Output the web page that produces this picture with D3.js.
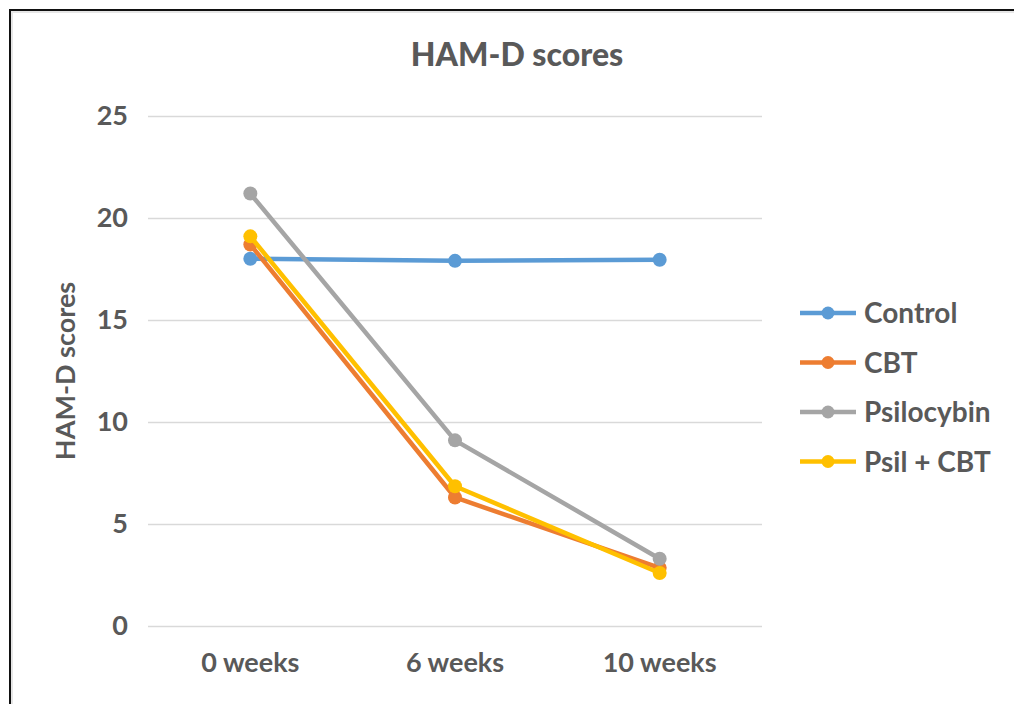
<!DOCTYPE html>
<html lang="en">
<head>
    <meta charset="UTF-8">
    <script src="https://d3js.org/d3.v7.min.js"></script>
    <style>
        body {
            margin: 0;
            background: #fff;
            font-family: Lato, "Open Sans", Arial, sans-serif;
        }
        .tick text {
            font-family: Lato, "Open Sans", Arial, sans-serif;
            font-size: 27px;
            font-weight: bold;
            fill: #595959;
        }
        .legend text {
            font-size: 28px;
            font-weight: bold;
            fill: #595959;
        }
    </style>
</head>
<body>
    <svg id="chart"></svg>
    <script>
        const categories = ["0 weeks", "6 weeks", "10 weeks"];
        const seriesNames = ["Control", "CBT", "Psilocybin", "Psil + CBT"];
        const control = [18.0, 17.9, 17.95];
        const cbt = [18.7, 6.3, 2.85];
        const psilocybin = [21.2, 9.1, 3.3];
        const psilCbt = [19.1, 6.85, 2.6];
        const yTicks = [0, 5, 10, 15, 20, 25];
        const colors = ["#5B9BD5", "#ED7D31", "#A5A5A5", "#FFC000"];

        const series = [control, cbt, psilocybin, psilCbt].map((vals, i) => ({
            name: seriesNames[i],
            color: colors[i],
            values: vals.map((v, j) => ({ cat: categories[j], v }))
        }));

        const width = 1014;
        const height = 704;
        const margin = { top: 116, right: 252, bottom: 78, left: 148 };

        const svg = d3.select("#chart")
            .attr("width", width)
            .attr("height", height);

        // outer frame
        svg.append("rect")
            .attr("x", 12).attr("y", 12)
            .attr("width", width + 20).attr("height", height + 20)
            .attr("fill", "none")
            .attr("stroke", "#e6e6e6")
            .attr("stroke-width", 2);
        svg.append("rect")
            .attr("x", 10).attr("y", 10)
            .attr("width", width + 20).attr("height", height + 20)
            .attr("fill", "none")
            .attr("stroke", "#111")
            .attr("stroke-width", 2);

        const x = d3.scaleBand()
            .domain(categories)
            .range([margin.left, width - margin.right]);

        const y = d3.scaleLinear()
            .domain([0, 25])
            .range([height - margin.bottom, margin.top]);

        // gridlines + y labels
        const yAxis = svg.append("g")
            .attr("transform", `translate(${margin.left},0)`)
            .call(d3.axisLeft(y)
                .tickValues(yTicks)
                .tickSize(-(width - margin.left - margin.right))
                .tickPadding(20));
        yAxis.select(".domain").remove();
        yAxis.selectAll(".tick line")
            .attr("stroke", "#d9d9d9")
            .attr("stroke-width", 1.5);

        const xAxis = svg.append("g")
            .attr("transform", `translate(0,${height - margin.bottom})`)
            .call(d3.axisBottom(x).tickSize(0).tickPadding(27));
        xAxis.select(".domain").remove();

        // title
        svg.append("text")
            .attr("x", 517)
            .attr("y", 66)
            .attr("text-anchor", "middle")
            .attr("font-size", 32)
            .attr("font-weight", 900)
            .attr("fill", "#595959")
            .text("HAM-D scores");

        svg.append("text")
            .attr("transform", `translate(75,${y(12.5)}) rotate(-90)`)
            .attr("text-anchor", "middle")
            .attr("font-size", 27)
            .attr("font-weight", "bold")
            .attr("fill", "#595959")
            .text("HAM-D scores");

        const line = d3.line()
            .x(d => x(d.cat) + x.bandwidth() / 2)
            .y(d => y(d.v));

        const g = svg.selectAll(".series")
            .data(series)
            .enter()
            .append("g")
            .attr("class", "series");

        g.append("path")
            .attr("d", d => line(d.values))
            .attr("fill", "none")
            .attr("stroke", d => d.color)
            .attr("stroke-width", 4.5)
            .attr("stroke-linejoin", "round");

        g.selectAll("circle")
            .data(d => d.values.map(p => ({ ...p, color: d.color })))
            .enter()
            .append("circle")
            .attr("cx", d => x(d.cat) + x.bandwidth() / 2)
            .attr("cy", d => y(d.v))
            .attr("r", 7)
            .attr("fill", d => d.color);

        // legend
        const legend = svg.append("g").attr("class", "legend");
        const item = legend.selectAll("g")
            .data(series)
            .enter()
            .append("g")
            .attr("transform", (d, i) => `translate(800,${313 + i * 49.5})`);
        item.append("line")
            .attr("x1", 0).attr("x2", 56)
            .attr("stroke", d => d.color)
            .attr("stroke-width", 4.5);
        item.append("circle")
            .attr("cx", 28).attr("r", 6.5)
            .attr("fill", d => d.color);
        item.append("text")
            .attr("x", 64)
            .attr("dy", "0.36em")
            .text(d => d.name);
    </script>
</body>
</html>
